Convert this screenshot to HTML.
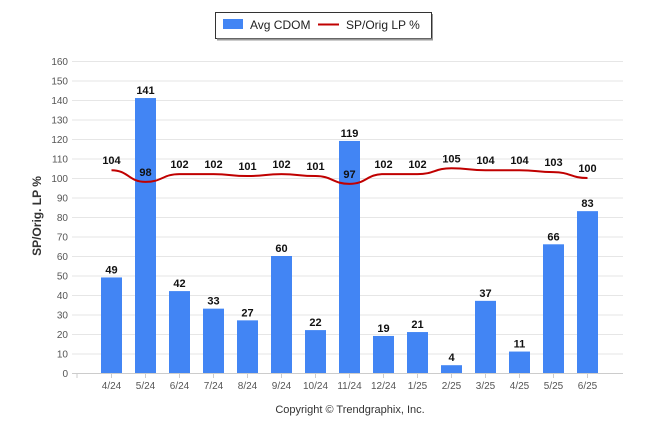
<!DOCTYPE html>
<html><head><meta charset="utf-8"><style>
body{margin:0;background:#fff;font-family:"Liberation Sans",sans-serif;}
</style></head><body>
<svg width="646" height="434" xmlns="http://www.w3.org/2000/svg">
<g>
<rect x="215.5" y="12.5" width="216" height="26" fill="#fff" stroke="#333" stroke-width="1"/>
<line x1="217" y1="39.5" x2="433" y2="39.5" stroke="#999" stroke-width="2"/>
<line x1="432.5" y1="14" x2="432.5" y2="40" stroke="#999" stroke-width="1"/>
<rect x="223" y="19" width="20" height="10" fill="#4285f4"/>
<text x="250" y="29" font-size="12" fill="#222">Avg CDOM</text>
<line x1="318" y1="24.5" x2="339" y2="24.5" stroke="#c00000" stroke-width="2"/>
<text x="346" y="29" font-size="12" fill="#222">SP/Orig LP %</text>
</g>
<g id="grid"></g>
<g id="bars"></g>
<g id="line"></g>
<g id="labels"></g>
<text transform="translate(41,216) rotate(-90)" text-anchor="middle" font-size="12" font-weight="bold" fill="#333">SP/Orig. LP %</text>
<text x="350" y="413" text-anchor="middle" font-size="11" fill="#333">Copyright © Trendgraphix, Inc.</text>
</svg>
<script>
const categories=["4/24","5/24","6/24","7/24","8/24","9/24","10/24","11/24","12/24","1/25","2/25","3/25","4/25","5/25","6/25"];
const cdom=[49,141,42,33,27,60,22,119,19,21,4,37,11,66,83];
const spPct=[104,98,102,102,101,102,101,97,102,102,105,104,104,103,100];
const yTicks=[0,10,20,30,40,50,60,70,80,90,100,110,120,130,140,150,160];
const NS="http://www.w3.org/2000/svg";
const y=v=>373-v*(312/160);
const x=i=>111.5+i*34;
function mk(t,a,p){const e=document.createElementNS(NS,t);for(const k in a)e.setAttribute(k,a[k]);p.appendChild(e);return e;}
const grid=document.getElementById('grid');
yTicks.forEach(v=>{
 const l=mk('line',{x1:72,x2:623,y1:y(v)+0.5,y2:y(v)+0.5,stroke:'#e6e6e6','stroke-width':1},grid);
 
 
 const t=mk('text',{x:68,y:y(v)+4,'text-anchor':'end','font-size':10,fill:'#555'},grid);
 t.textContent=v;
 
 
});
mk('line',{x1:72,x2:623,y1:373.5,y2:373.5,stroke:'#ccc'},grid);
[77].concat(categories.map((c,i)=>x(i))).forEach(px=>mk('line',{x1:px,x2:px,y1:373,y2:378,stroke:'#ccc'},grid));
categories.forEach((c,i)=>{
 const t=mk('text',{x:x(i),y:389,'text-anchor':'middle','font-size':10,fill:'#555'},grid);
 t.textContent=c;
 
 
});
const bars=document.getElementById('bars'),labels=document.getElementById('labels');
cdom.forEach((v,i)=>{
 const r=mk('rect',{x:x(i)-10.5,y:y(v),width:21,height:373-y(v),fill:'#4285f4'},bars);
 
 
 const t=mk('text',{x:x(i),y:y(v)-4,'text-anchor':'middle','font-size':11,'font-weight':'bold',fill:'#111'},labels);
 t.textContent=v;
 
 
});
let d='';
const pts=spPct.map((v,i)=>[x(i),y(v)]);
pts.forEach((p,i)=>{
 if(i===0){d+='M'+p[0]+','+p[1];return;}
 const q=pts[i-1],dx=(p[0]-q[0])/2;
 d+=' C'+(q[0]+dx)+','+q[1]+' '+(p[0]-dx)+','+p[1]+' '+p[0]+','+p[1];
});
const path=mk('path',{d:d,fill:'none',stroke:'#c00000','stroke-width':2},document.getElementById('line'));


spPct.forEach((v,i)=>{
 const t=mk('text',{x:x(i),y:y(v)-6,'text-anchor':'middle','font-size':11,'font-weight':'bold',fill:'#111'},labels);
 t.textContent=v;
 
 
});
</script>
</body></html>
